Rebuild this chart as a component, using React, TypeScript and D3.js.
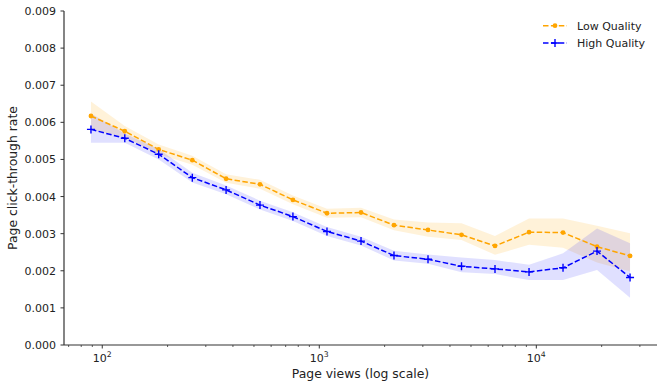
import { useMemo } from "react";
import * as d3 from "d3";

const W = 664;
const H = 388;
const MARGIN = { top: 11, right: 7, bottom: 43, left: 64 };

const FONT = "'DejaVu Sans', sans-serif";
const SPINE = "#333333";
const TEXT = "#222222";

// page-view bins (log-spaced)
const views = [
  88.7, 127, 182, 260, 372, 533, 756, 1085, 1557, 2209, 3169, 4522, 6451, 9256,
  13275, 19040, 27030,
];

const lowMean = [
  0.00617, 0.00576, 0.00527, 0.00498, 0.00448, 0.00433, 0.00391, 0.00355, 0.00357,
  0.00323, 0.0031, 0.00297, 0.00267, 0.00304, 0.00303, 0.00265, 0.0024,
];
const lowLower = [
  0.0058, 0.0056, 0.00514, 0.00486, 0.00437, 0.00421, 0.00379, 0.00343, 0.00344,
  0.00309, 0.00292, 0.00283, 0.00243, 0.0027, 0.00262, 0.00222, 0.00198,
];
const lowUpper = [
  0.00656, 0.0059, 0.0054, 0.0051, 0.0046, 0.00445, 0.00403, 0.00367, 0.0037,
  0.00338, 0.0033, 0.00328, 0.00294, 0.00341, 0.00341, 0.00321, 0.00301,
];

const highMean = [
  0.00581, 0.00557, 0.00514, 0.00451, 0.00418, 0.00377, 0.00346, 0.00306, 0.0028,
  0.00241, 0.00231, 0.00212, 0.00205, 0.00197, 0.00208, 0.00253, 0.00182,
];
const highLower = [
  0.00545, 0.00545, 0.005, 0.00438, 0.00406, 0.00365, 0.00334, 0.00294, 0.00268,
  0.00228, 0.00219, 0.00196, 0.00191, 0.00175, 0.00175, 0.00202, 0.00127,
];
const highUpper = [
  0.00624, 0.0057, 0.00528, 0.00464, 0.0043, 0.00389, 0.00358, 0.00318, 0.00292,
  0.00254, 0.00244, 0.00236, 0.00229, 0.00216, 0.00247, 0.00314, 0.00274,
];

const yTicks = [0, 0.001, 0.002, 0.003, 0.004, 0.005, 0.006, 0.007, 0.008, 0.009];
const xMajor = [100, 1000, 10000];

const SERIES = [
  {
    name: "Low Quality",
    color: "orange",
    fillOpacity: 0.15,
    mean: lowMean,
    lower: lowLower,
    upper: lowUpper,
    marker: "dot",
  },
  {
    name: "High Quality",
    color: "blue",
    fillOpacity: 0.12,
    mean: highMean,
    lower: highLower,
    upper: highUpper,
    marker: "plus",
  },
];

function Marker({ kind, x, y, color }: { kind: string; x: number; y: number; color: string }) {
  if (kind === "dot") return <circle cx={x} cy={y} r={2.4} fill={color} />;
  return (
    <path
      d={`M${x - 4},${y}H${x + 4}M${x},${y - 4}V${y + 4}`}
      stroke={color}
      strokeWidth={1.4}
      fill="none"
    />
  );
}

export default function App() {
  const innerW = W - MARGIN.left - MARGIN.right;
  const innerH = H - MARGIN.top - MARGIN.bottom;

  const x = useMemo(() => {
    const lo = Math.log10(d3.min(views)!);
    const hi = Math.log10(d3.max(views)!);
    const pad = (hi - lo) * 0.05;
    return d3
      .scaleLog()
      .domain([10 ** (lo - pad), 10 ** (hi + pad)])
      .range([MARGIN.left, MARGIN.left + innerW]);
  }, [innerW]);

  const y = useMemo(
    () => d3.scaleLinear().domain([0, 0.009]).range([MARGIN.top + innerH, MARGIN.top]),
    [innerH]
  );

  const [d0, d1] = x.domain();
  const minorTicks: number[] = [];
  for (let e = Math.floor(Math.log10(d0)); e <= Math.ceil(Math.log10(d1)); e++) {
    for (let m = 2; m <= 9; m++) {
      const v = m * 10 ** e;
      if (v >= d0 && v <= d1) minorTicks.push(v);
    }
  }

  const line = (s: (typeof SERIES)[number]) =>
    d3
      .line<number>()
      .x((_, i) => x(views[i]))
      .y((v) => y(v))(s.mean) ?? "";

  const band = (s: (typeof SERIES)[number]) =>
    d3
      .area<number>()
      .x((_, i) => x(views[i]))
      .y0((_, i) => y(s.lower[i]))
      .y1((_, i) => y(s.upper[i]))(views) ?? "";

  const baseY = MARGIN.top + innerH;

  return (
    <svg
      width={W}
      height={H}
      style={{ position: "absolute", left: 0, top: 0, background: "#fff" }}
      fontFamily={FONT}
    >
      {/* confidence bands */}
      {SERIES.map((s) => (
        <path key={s.name + "-band"} d={band(s)} fill={s.color} fillOpacity={s.fillOpacity} stroke="none" />
      ))}

      {/* lines + markers */}
      {SERIES.map((s) => (
        <g key={s.name}>
          <path d={line(s)} fill="none" stroke={s.color} strokeWidth={1.5} strokeDasharray="5.5,2.4" />
          {s.mean.map((v, i) => (
            <Marker key={i} kind={s.marker} x={x(views[i])} y={y(v)} color={s.color} />
          ))}
        </g>
      ))}

      {/* spines */}
      <line x1={MARGIN.left} x2={MARGIN.left} y1={MARGIN.top} y2={baseY} stroke={SPINE} strokeWidth={1.2} />
      <line x1={MARGIN.left} x2={MARGIN.left + innerW} y1={baseY} y2={baseY} stroke={SPINE} strokeWidth={1.2} />

      {/* y ticks */}
      {yTicks.map((t) => (
        <g key={t}>
          <line x1={MARGIN.left - 3.5} x2={MARGIN.left} y1={y(t)} y2={y(t)} stroke={SPINE} strokeWidth={1} />
          <text x={MARGIN.left - 8} y={y(t)} dy="0.36em" textAnchor="end" fontSize={11} fill={TEXT}>
            {d3.format(".3f")(t)}
          </text>
        </g>
      ))}

      {/* x ticks */}
      {minorTicks.map((t) => (
        <line key={t} x1={x(t)} x2={x(t)} y1={baseY} y2={baseY + 2} stroke={SPINE} strokeWidth={0.8} />
      ))}
      {xMajor.map((t) => (
        <g key={t}>
          <line x1={x(t)} x2={x(t)} y1={baseY} y2={baseY + 3.5} stroke={SPINE} strokeWidth={1} />
          <text x={x(t)} y={baseY + 16.5} textAnchor="middle" fontSize={11} fill={TEXT}>
            10
            <tspan fontSize={7.7} dy={-4.5}>
              {Math.round(Math.log10(t))}
            </tspan>
          </text>
        </g>
      ))}

      {/* axis titles */}
      <text x={MARGIN.left + innerW / 2} y={378} textAnchor="middle" fontSize={12.4} fill={TEXT}>
        Page views (log scale)
      </text>
      <text
        transform={`translate(16.5,${MARGIN.top + innerH / 2}) rotate(-90)`}
        textAnchor="middle"
        fontSize={12.4}
        fill={TEXT}
      >
        Page click-through rate
      </text>

      {/* legend */}
      {SERIES.map((s, i) => {
        const ly = 25.7 + i * 17.3;
        return (
          <g key={s.name + "-legend"}>
            <line x1={543} x2={567} y1={ly} y2={ly} stroke={s.color} strokeWidth={1.5} strokeDasharray="5.5,2.4" />
            <Marker kind={s.marker} x={555} y={ly} color={s.color} />
            <text x={577} y={ly} dy="0.36em" fontSize={11} fill={TEXT}>
              {s.name}
            </text>
          </g>
        );
      })}
    </svg>
  );
}
